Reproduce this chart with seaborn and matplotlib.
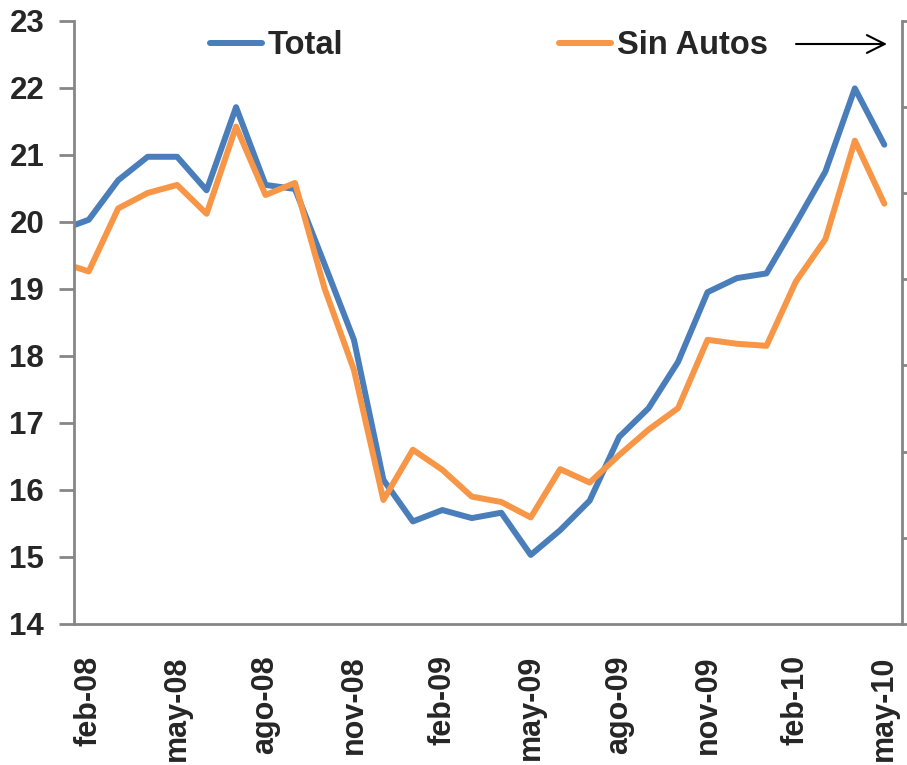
import numpy as np
import pandas as pd
import seaborn as sns
import matplotlib.pyplot as plt
from matplotlib.lines import Line2D
from matplotlib.ticker import FixedLocator, NullFormatter

# -----------------------------
# Data (monthly, ene-08 .. may-10)
# -----------------------------
months = ["ene-08", "feb-08", "mar-08", "abr-08", "may-08", "jun-08", "jul-08",
          "ago-08", "sep-08", "oct-08", "nov-08", "dic-08", "ene-09", "feb-09",
          "mar-09", "abr-09", "may-09", "jun-09", "jul-09", "ago-09", "sep-09",
          "oct-09", "nov-09", "dic-09", "ene-10", "feb-10", "mar-10", "abr-10",
          "may-10"]
total = [19.87, 20.03, 20.62, 20.97, 20.97, 20.47, 21.71, 20.55, 20.49, 19.37,
         18.24, 16.15, 15.53, 15.70, 15.58, 15.66, 15.03, 15.40, 15.84, 16.79,
         17.22, 17.91, 18.95, 19.16, 19.23, 19.98, 20.75, 21.99, 21.15]
sin_autos = [19.40, 19.26, 20.20, 20.43, 20.55, 20.12, 21.42, 20.40, 20.58, 19.01,
             17.79, 15.85, 16.60, 16.30, 15.90, 15.82, 15.59, 16.31, 16.11, 16.52,
             16.90, 17.22, 18.24, 18.18, 18.15, 19.11, 19.74, 21.21, 20.27]
series = ["Total", "Sin Autos"]
colors = {"Total": "#4A7EBB", "Sin Autos": "#F79646"}

# points sit mid-month, axis starts at 1 feb 2008
df = pd.DataFrame({"mes": months, "pos": np.arange(len(months)) - 0.5,
                   "Total": total, "Sin Autos": sin_autos})
long = df.melt(id_vars=["mes", "pos"], value_vars=series,
               var_name="serie", value_name="valor")

sns.set_style("white")
plt.rcParams["font.family"] = ["Liberation Sans", "DejaVu Sans"]
plt.rcParams["font.weight"] = "bold"

gray = "#868686"

fig = plt.figure(figsize=(9.07, 7.65), dpi=100)
ax = fig.add_axes([74 / 907, 1 - 624 / 765, (902 - 74) / 907, (624 - 20.7) / 765])

sns.lineplot(data=long, x="pos", y="valor", hue="serie", hue_order=series,
             palette=colors, linewidth=4.3, legend=False, ax=ax,
             solid_capstyle="round", solid_joinstyle="round")

ax.set_xlim(0, 28.1)
ax.set_ylim(14, 23)
ax.set_yticks(range(14, 24))
ax.set_xlabel("")
ax.set_ylabel("")

# month-start ticks every quarter, labels centred on the month
starts = np.arange(0, 28, 3)
ax.xaxis.set_major_locator(FixedLocator(starts))
ax.xaxis.set_major_formatter(NullFormatter())
ax.xaxis.set_minor_locator(FixedLocator(starts + 0.5))
ax.set_xticklabels(months[1::3], minor=True, rotation=90)

ax.tick_params(axis="y", which="major", direction="out", length=11, width=2,
               color=gray, labelsize=22.5, pad=10.5)
ax.tick_params(axis="x", which="major", direction="out", length=9, width=2,
               color=gray)
ax.tick_params(axis="x", which="minor", length=0, labelsize=22, pad=22.5)
for lab in ax.get_yticklabels() + ax.get_xticklabels(minor=True):
    lab.set_fontweight("bold")

for side in ["left", "bottom"]:
    ax.spines[side].set_color(gray)
    ax.spines[side].set_linewidth(2)
ax.spines["top"].set_visible(False)
ax.spines["right"].set_visible(False)

# secondary axis on the right, ticks only
ax2 = ax.twinx()
ax2.set_ylim(0, 7)
ax2.set_yticks(range(0, 8))
ax2.set_yticklabels([])
ax2.tick_params(axis="y", direction="out", length=6, width=2, color=gray)
ax2.spines["right"].set_color(gray)
ax2.spines["right"].set_linewidth(2)
for side in ["top", "left", "bottom"]:
    ax2.spines[side].set_visible(False)

# legend
handles = [Line2D([0], [0], color=colors[s], lw=4.3, solid_capstyle="round")
           for s in series]
leg = ax.legend(handles, series, ncol=2, frameon=False,
                loc="center left", bbox_to_anchor=(210 / 907, 1 - 46 / 765),
                bbox_transform=fig.transFigure,
                prop={"size": 23.5, "weight": "bold"},
                handlelength=1.6, handletextpad=0.18, columnspacing=6.6,
                borderaxespad=0, borderpad=0)

# arrow pointing to the right axis
ax.annotate("", xy=(887 / 907, 1 - 44 / 765), xytext=(796 / 907, 1 - 44 / 765),
            xycoords="figure fraction", textcoords="figure fraction",
            arrowprops=dict(arrowstyle="->", color="black", lw=1.5,
                            mutation_scale=32, shrinkA=0, shrinkB=0))

plt.savefig("out.png", dpi=100)
plt.close()
